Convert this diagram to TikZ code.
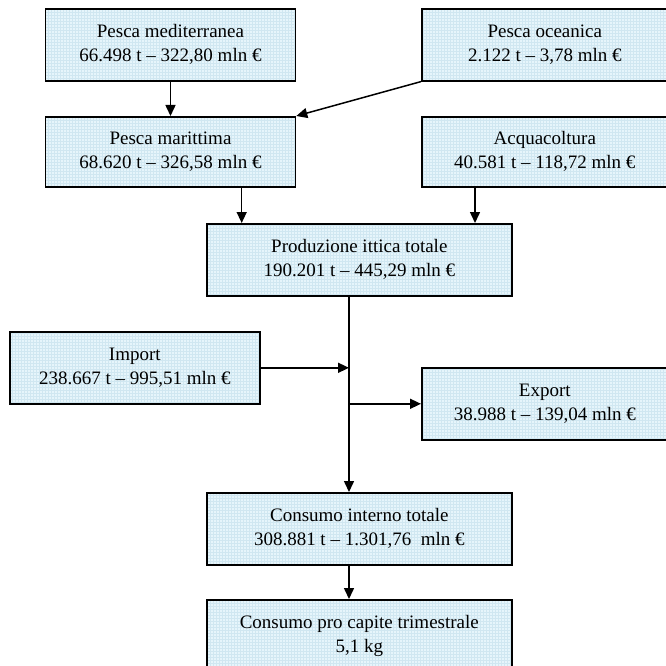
\documentclass[tikz,border=0pt]{standalone}
\usepackage{fontspec}
\setmainfont{Liberation Serif}
\usetikzlibrary{arrows.meta,patterns}
\definecolor{boxfill}{RGB}{230,245,251}
\definecolor{gridc}{RGB}{208,231,241}
\begin{document}
\begin{tikzpicture}[x=1pt,y=-1pt,
  box/.style={draw=black, line width=1.6pt, preaction={fill=boxfill},
    pattern=grid, pattern color=gridc,
    minimum height=72pt, inner sep=0pt, align=center,
    font=\fontsize{19}{24}\selectfont, anchor=north west},
  arr/.style={line width=1.5pt, -{Triangle[length=11pt,width=10pt]}}]
\useasboundingbox (0,0) rectangle (666,666);
\clip (0,0) rectangle (666,666);

\node[box, minimum width=250pt] (med) at (44.7,8) {Pesca mediterranea\\66.498 t – 322,80 mln €};
\node[box, minimum width=246pt] (oce) at (421,8) {Pesca oceanica\\2.122 t – 3,78 mln €};
\node[box, minimum width=250pt, minimum height=70pt] (mar) at (44.7,116) {Pesca marittima\\68.620 t – 326,58 mln €};
\node[box, minimum width=246pt, minimum height=70pt] (acq) at (421,116) {Acquacoltura\\40.581 t – 118,72 mln €};
\node[box, minimum width=305pt] (prod) at (206,223) {Produzione ittica totale\\190.201 t – 445,29 mln €};
\node[box, minimum width=250pt] (imp) at (9,331) {Import\\238.667 t – 995,51 mln €};
\node[box, minimum width=246pt] (exp) at (421,367) {Export\\38.988 t – 139,04 mln €};
\node[box, minimum width=305pt] (ci) at (206,492) {Consumo interno totale\\308.881 t – 1.301,76\ \ mln €};
\node[box, minimum width=305pt] (pc) at (206,599) {Consumo pro capite trimestrale\\5,1 kg};

\coordinate (xa) at (241.7,0);
\coordinate (xb) at (475,0);
\coordinate (xv) at (349,0);

\draw[arr] (med.south) -- (mar.north);
\draw[arr] (oce.south west) -- (mar.north east);
\draw[arr] (mar.south -| xa) -- (prod.north -| xa);
\draw[arr] (acq.south -| xb) -- (prod.north -| xb);
\draw[arr] (prod.south -| xv) -- (ci.north -| xv);
\draw[arr] (imp.east) -- (imp.east -| xv);
\draw[arr] (exp.west -| xv) -- (exp.west);
\draw[arr] (ci.south -| xv) -- (pc.north -| xv);
\end{tikzpicture}
\end{document}
